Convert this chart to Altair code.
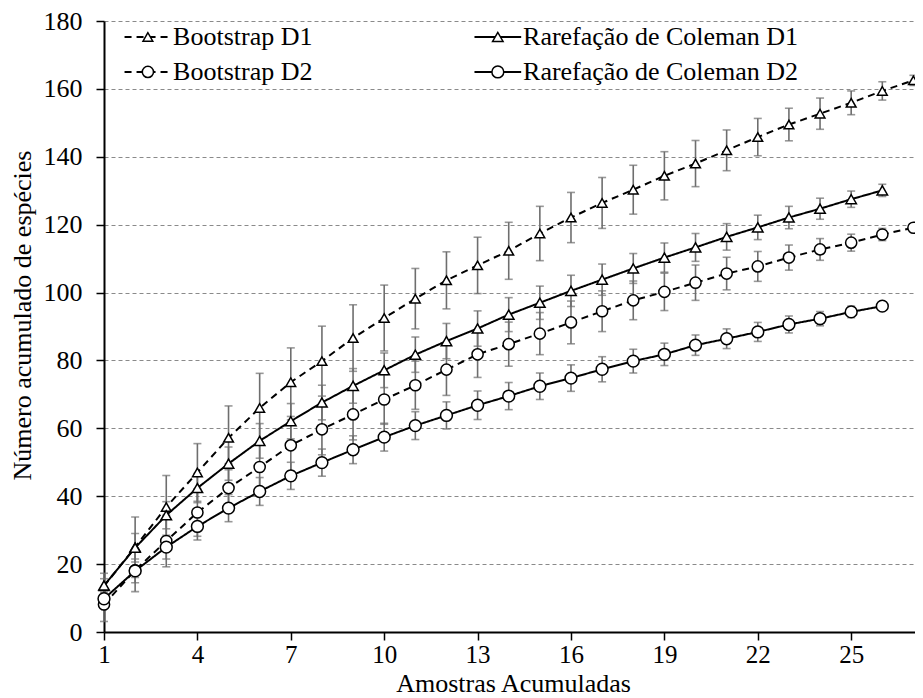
import altair as alt
import pandas as pd

# ---------------- data ----------------
samples = list(range(1, 28))
series_names = ["Bootstrap D1", "Rarefação de Coleman D1", "Bootstrap D2", "Rarefação de Coleman D2"]

boot_d1 = [13.5, 25.0, 36.8, 47.0, 57.2, 66.0, 73.6, 79.8, 86.6, 92.5, 98.2, 103.6, 108.0, 112.3,
           117.4, 122.1, 126.4, 130.3, 134.4, 138.0, 141.9, 145.8, 149.5, 152.7, 155.9, 159.4, 162.5]
boot_d1_err = [3.8, 8.9, 9.3, 8.5, 9.4, 10.2, 10.1, 10.3, 9.8, 9.7, 8.9, 8.4, 8.3, 8.4,
               8.0, 7.4, 7.5, 7.2, 7.1, 6.8, 6.0, 5.5, 4.8, 4.6, 3.5, 2.7, 1.5]

coleman_d1 = [13.7, 24.8, 34.4, 42.4, 49.6, 56.3, 62.1, 67.6, 72.5, 77.1, 81.7, 85.7, 89.4, 93.5,
              97.0, 100.5, 103.8, 107.1, 110.3, 113.3, 116.4, 119.2, 122.1, 124.7, 127.5, 130.1]
coleman_d1_err = [2.0, 4.2, 4.0, 4.3, 4.9, 5.1, 5.2, 5.1, 5.1, 5.1, 5.2, 5.2, 5.2, 5.0,
                  4.9, 4.6, 4.6, 4.4, 4.3, 4.1, 3.9, 3.6, 3.3, 3.1, 2.4, 1.8]

boot_d2 = [8.1, 18.2, 26.8, 35.2, 42.4, 48.6, 55.0, 59.7, 64.1, 68.5, 72.7, 77.3, 81.8, 84.8,
           87.9, 91.2, 94.5, 97.7, 100.2, 102.9, 105.6, 107.7, 110.3, 112.7, 114.7, 117.1, 119.1]
boot_d2_err = [5.0, 6.3, 7.6, 7.0, 7.2, 7.3, 7.5, 7.5, 7.5, 7.3, 7.1, 7.6, 6.8, 6.5,
               6.2, 6.3, 6.0, 5.7, 5.5, 5.2, 4.8, 4.4, 3.7, 3.2, 2.5, 1.8, 1.0]

coleman_d2 = [9.8, 18.0, 25.0, 31.1, 36.5, 41.4, 46.0, 49.9, 53.7, 57.4, 60.8, 63.8, 66.8, 69.5,
              72.4, 74.8, 77.4, 79.8, 81.8, 84.5, 86.4, 88.4, 90.6, 92.3, 94.3, 96.0]
coleman_d2_err = [2.5, 3.5, 3.5, 4.0, 4.0, 4.1, 4.0, 4.0, 4.1, 4.1, 4.1, 4.0, 4.2, 4.0,
                  3.9, 3.9, 3.7, 3.5, 3.3, 3.0, 2.9, 2.8, 2.5, 2.1, 1.7, 0.6]

x_ticks = [1, 4, 7, 10, 13, 16, 19, 22, 25]
y_ticks = [0, 20, 40, 60, 80, 100, 120, 140, 160, 180]

# ---------------- table ----------------
rows = []
for name, vals, errs in [
    (series_names[0], boot_d1, boot_d1_err),
    (series_names[1], coleman_d1, coleman_d1_err),
    (series_names[2], boot_d2, boot_d2_err),
    (series_names[3], coleman_d2, coleman_d2_err),
]:
    for xv, v, e in zip(samples, vals, errs):
        rows.append({"series": name, "x": xv, "y": v, "lo": v - e, "hi": v + e})
df = pd.DataFrame(rows)

# legend entries (placed in data units, two columns x two rows)
leg_col_x = [1.66, 12.9]
leg_row_y = [175.3, 165.0]
leg_rows = []
for i, name in enumerate(series_names):
    c, r = i % 2, i // 2
    x0 = leg_col_x[c]
    leg_rows.append({"series": name, "x": x0, "x2": x0 + 1.5, "xm": x0 + 0.75,
                     "xt": x0 + 1.56, "y": leg_row_y[r]})
leg = pd.DataFrame(leg_rows)

FONT = "Liberation Serif"
FS = 26

xscale = alt.Scale(domain=[1, 27.05], nice=False, zero=False)
yscale = alt.Scale(domain=[0, 180], nice=False)

dash_scale = alt.Scale(domain=series_names, range=[[7, 5], [1, 0], [7, 5], [1, 0]])
shape_scale = alt.Scale(domain=series_names, range=["triangle-up", "triangle-up", "circle", "circle"])
size_scale = alt.Scale(domain=series_names, range=[95, 140, 72, 140])

x_axis = alt.Axis(values=x_ticks, grid=False, tickSize=8, tickColor="black", tickWidth=1.5,
                  domainColor="black", domainWidth=2, labelFont=FONT, labelFontSize=25,
                  labelColor="black", labelPadding=2, labelFlush=False,
                  title="Amostras Acumuladas", titleFont=FONT, titleFontSize=FS,
                  titleFontWeight="normal", titleColor="black", titleX=409, titleY=59,
                  titleBaseline="alphabetic", titleAlign="center")
y_axis = alt.Axis(values=y_ticks, grid=True, gridDash=[4, 3], gridColor="#8a8a8a", gridWidth=1,
                  tickSize=8, tickColor="black", tickWidth=1.5, domainColor="black", domainWidth=2,
                  labelFont=FONT, labelFontSize=FS, labelColor="black", labelPadding=14,
                  title="Número acumulado de espécies", titleFont=FONT, titleFontSize=FS,
                  titleFontWeight="normal", titleColor="black", titleAngle=270,
                  titleX=-74, titleY=294, titleBaseline="alphabetic", titleAlign="center")


def X(field):
    return alt.X(field, type="quantitative", scale=xscale, axis=x_axis)


def Y(field):
    return alt.Y(field, type="quantitative", scale=yscale, axis=y_axis)


base = alt.Chart(df)
GRAY = "#6e6e6e"

err = base.mark_rule(color=GRAY, strokeWidth=1.6).encode(x=X("x"), y=Y("lo"), y2="hi:Q")
cap_lo = base.mark_tick(color=GRAY, orient="horizontal", size=8, thickness=1.6).encode(x=X("x"), y=Y("lo"))
cap_hi = base.mark_tick(color=GRAY, orient="horizontal", size=8, thickness=1.6).encode(x=X("x"), y=Y("hi"))
lines = base.mark_line(color="black", strokeWidth=2).encode(
    x=X("x"), y=Y("y"),
    detail="series:N",
    strokeDash=alt.StrokeDash("series:N", scale=dash_scale, legend=None),
)
points = base.mark_point(filled=True, fill="white", stroke="black", strokeWidth=1.5, opacity=1).encode(
    x=X("x"), y=Y("y"),
    shape=alt.Shape("series:N", scale=shape_scale, legend=None),
    size=alt.Size("series:N", scale=size_scale, legend=None),
)

lbase = alt.Chart(leg)
leg_lines = lbase.mark_rule(color="black", strokeWidth=2).encode(
    x=X("x"), x2="x2:Q", y=Y("y"),
    strokeDash=alt.StrokeDash("series:N", scale=dash_scale, legend=None),
)
leg_pts = lbase.mark_point(filled=True, fill="white", stroke="black", strokeWidth=1.5, opacity=1).encode(
    x=X("xm"), y=Y("y"),
    shape=alt.Shape("series:N", scale=shape_scale, legend=None),
    size=alt.Size("series:N", scale=size_scale, legend=None),
)
leg_txt = lbase.mark_text(align="left", baseline="middle", font=FONT, fontSize=FS, color="black").encode(
    x=X("xt"), y=Y("y"),
    text="series:N",
)

chart = alt.layer(err, cap_lo, cap_hi, lines, points, leg_lines, leg_pts, leg_txt).properties(
    width=811, height=611,
    autosize=alt.AutoSizeParams(type="none"),
    padding={"left": 96, "top": 13, "right": 0, "bottom": 64},
    background="white",
).configure_view(stroke=None)

chart.save("out.html", embed_options={"renderer": "svg", "actions": False})
